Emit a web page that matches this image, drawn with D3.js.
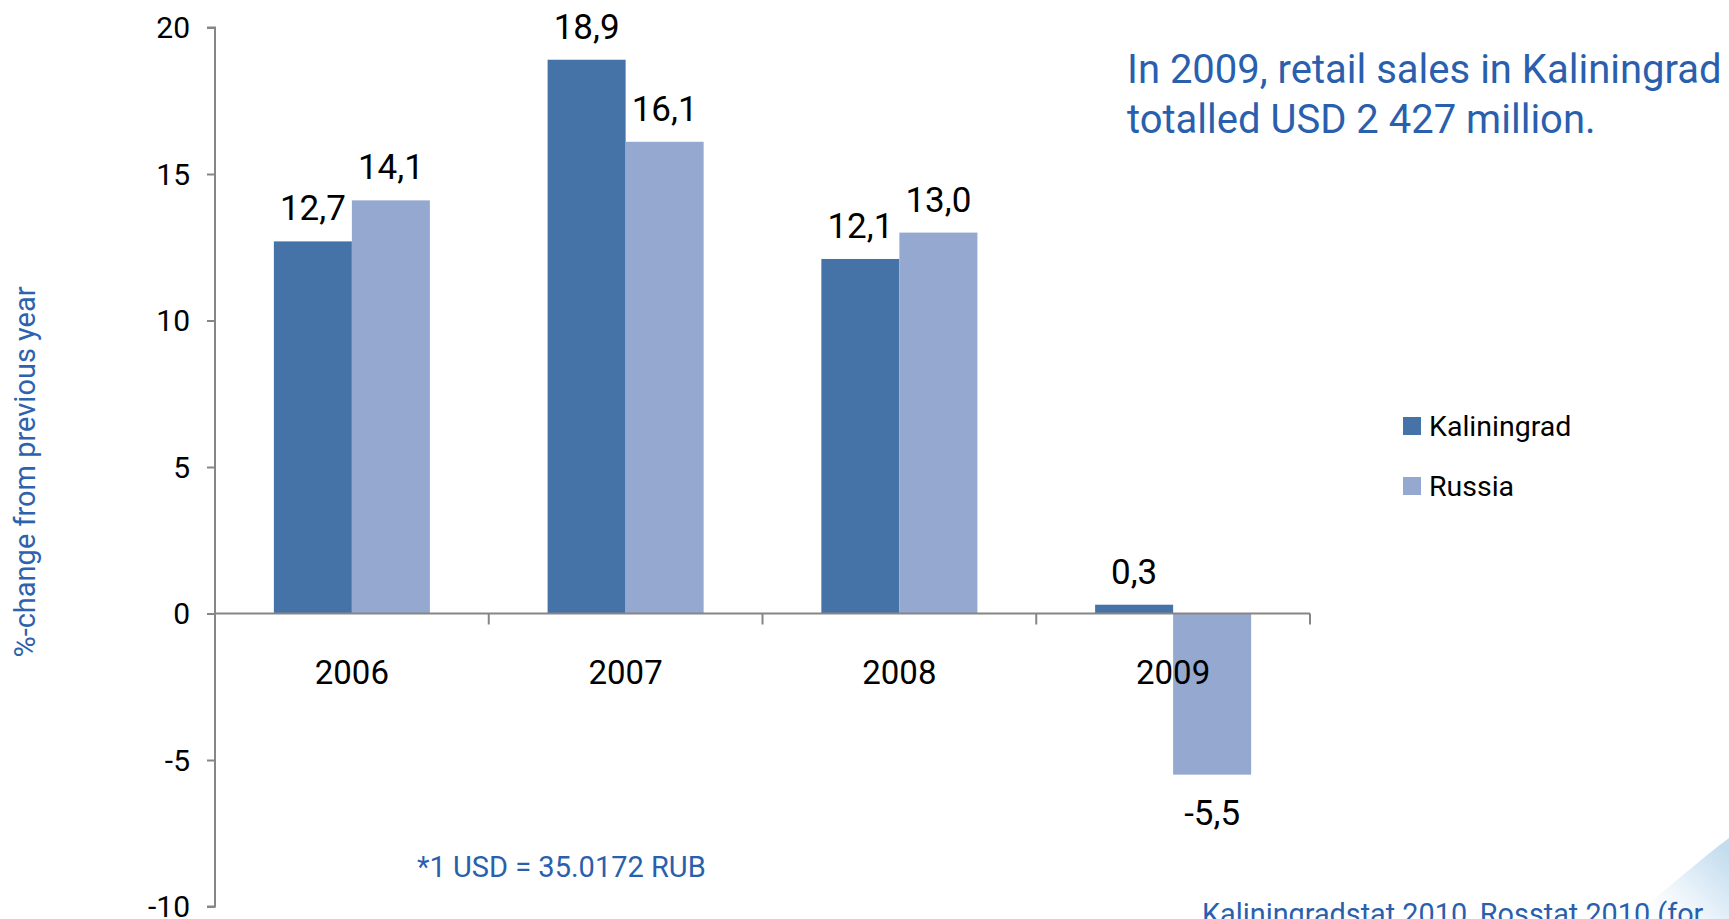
<!DOCTYPE html>
<html>
<head>
<meta charset="utf-8">
<script src="https://cdn.jsdelivr.net/npm/d3@7"></script>
<style>
  html, body { margin: 0; padding: 0; background: #fff; overflow: hidden; }
  svg { display: block; }
  text { font-family: Roboto, "Noto Sans", sans-serif; }
</style>
</head>
<body>
<script>
var width = 1729,
    height = 919

// data
var years = ["2006", "2007", "2008", "2009"];
var series = ["Kaliningrad", "Russia"];
var kaliningrad = [12.7, 18.9, 12.1, 0.3];
var russia = [14.1, 16.1, 13.0, -5.5];
var yTicks = [-10, -5, 0, 5, 10, 15, 20];
var colors = ["#4673a7", "#95a9d0"];

var values = [kaliningrad, russia];

var svg = d3.select("body").append("svg")
    .attr("width", width)
    .attr("height", height);

var defs = svg.append("defs");
var grad = defs.append("linearGradient")
    .attr("id", "swirl")
    .attr("x1", "0").attr("y1", "1").attr("x2", "1").attr("y2", "0.2");
grad.append("stop").attr("offset", "0").attr("stop-color", "#ffffff").attr("stop-opacity", 0);
grad.append("stop").attr("offset", "0.6").attr("stop-color", "#e3eff8");
grad.append("stop").attr("offset", "1").attr("stop-color", "#c4ddee");

// decorative swirl in the corner
svg.append("path")
    .attr("d", "M1630,919 C1665,890 1700,860 1729,838 L1729,919 Z")
    .attr("fill", "url(#swirl)");

var margin = ({top: 27.5, right: 419, bottom: 12.5, left: 215});

var y = d3.scaleLinear()
    .domain([-10, 20])
    .range([height - margin.bottom, margin.top]);

var x = d3.scaleBand()
    .domain(years)
    .range([margin.left, width - margin.right])
    .paddingInner(0.43)
    .paddingOuter(0.215);

var xs = d3.scaleBand()
    .domain(series)
    .range([0, x.bandwidth()]);

var step = x.step();

// bars
series.forEach(function(s, si) {
  svg.append("g")
    .selectAll("rect")
    .data(values[si].map(function(v, i) { return {year: years[i], v: v}; }))
    .join("rect")
      .attr("x", d => x(d.year) + xs(s))
      .attr("width", xs.bandwidth())
      .attr("y", d => y(Math.max(0, d.v)))
      .attr("height", d => Math.abs(y(d.v) - y(0)))
      .attr("fill", colors[si]);
});

// y axis
var yAxis = g => g
    .attr("transform", `translate(${margin.left},0)`)
    .call(d3.axisLeft(y).tickValues(yTicks).tickSize(8).tickPadding(17).tickFormat(d => String(d)))
    .call(g => g.select(".domain").attr("stroke", "#868686").attr("stroke-width", 2).attr("d", `M-8,${y(20)}H0V${y(-10)}H-8`))
    .call(g => g.selectAll(".tick line").attr("stroke", "#868686").attr("stroke-width", 2))
    .call(g => g.selectAll(".tick text").attr("font-size", "30px").attr("fill", "#000").attr("dy", "0.34em"));

svg.append("g").call(yAxis);

// x axis along zero
var xg = svg.append("g")
    .attr("transform", `translate(0,${y(0)})`);

xg.append("line")
    .attr("x1", margin.left).attr("x2", width - margin.right)
    .attr("stroke", "#868686").attr("stroke-width", 2);

xg.selectAll(".xtick")
    .data(d3.range(years.length + 1))
    .join("line")
      .attr("class", "xtick")
      .attr("x1", i => margin.left + i * step)
      .attr("x2", i => margin.left + i * step)
      .attr("y1", 0).attr("y2", 11)
      .attr("stroke", "#868686").attr("stroke-width", 2);

xg.selectAll(".xlab")
    .data(years)
    .join("text")
      .attr("class", "xlab")
      .attr("x", d => x(d) + x.bandwidth() / 2)
      .attr("y", 70)
      .attr("text-anchor", "middle")
      .attr("font-size", "33px")
      .attr("fill", "#000")
      .text(d => d);

// value labels
var fmt = v => d3.format(".1f")(v).replace(".", ",").replace("−", "-");
series.forEach(function(s, si) {
  svg.append("g")
    .selectAll("text")
    .data(values[si].map(function(v, i) { return {year: years[i], v: v}; }))
    .join("text")
      .attr("x", d => x(d.year) + xs(s) + xs.bandwidth() / 2)
      .attr("y", d => d.v >= 0 ? y(d.v) - 21 : y(d.v) + 50)
      .attr("text-anchor", "middle")
      .attr("font-size", "35px")
      .attr("fill", "#000")
      .text(d => fmt(d.v));
});

// y axis title
svg.append("text")
    .attr("transform", `translate(35,${472}) rotate(-90)`)
    .attr("text-anchor", "middle")
    .attr("font-size", "29px")
    .attr("fill", "#2e62ad")
    .text("%-change from previous year");

// legend
var legend = svg.append("g")
    .selectAll("g")
    .data(series)
    .join("g")
      .attr("transform", (d, i) => `translate(1403,${426 + i * 60})`);

legend.append("rect")
    .attr("y", -9).attr("width", 18).attr("height", 18)
    .attr("fill", (d, i) => colors[i]);

legend.append("text")
    .attr("x", 26).attr("dy", "0.36em")
    .attr("font-size", "28.5px")
    .attr("fill", "#000")
    .text(d => d);

// headline
var head = svg.append("text")
    .attr("x", 1127)
    .attr("y", 83)
    .attr("font-size", "40px")
    .attr("fill", "#2a5fad");
head.append("tspan").text("In 2009, retail sales in Kaliningrad");
head.append("tspan").attr("x", 1127).attr("dy", 50).text("totalled USD 2 427 million.");

// notes
svg.append("text")
    .attr("x", 417)
    .attr("y", 877)
    .attr("font-size", "29px")
    .attr("fill", "#2a5fad")
    .text("*1 USD = 35.0172 RUB");

svg.append("text")
    .attr("x", 1202)
    .attr("y", 924)
    .attr("font-size", "28.8px")
    .attr("fill", "#2a5fad")
    .text("Kaliningradstat 2010, Rosstat 2010 (for");
</script>
</body>
</html>
